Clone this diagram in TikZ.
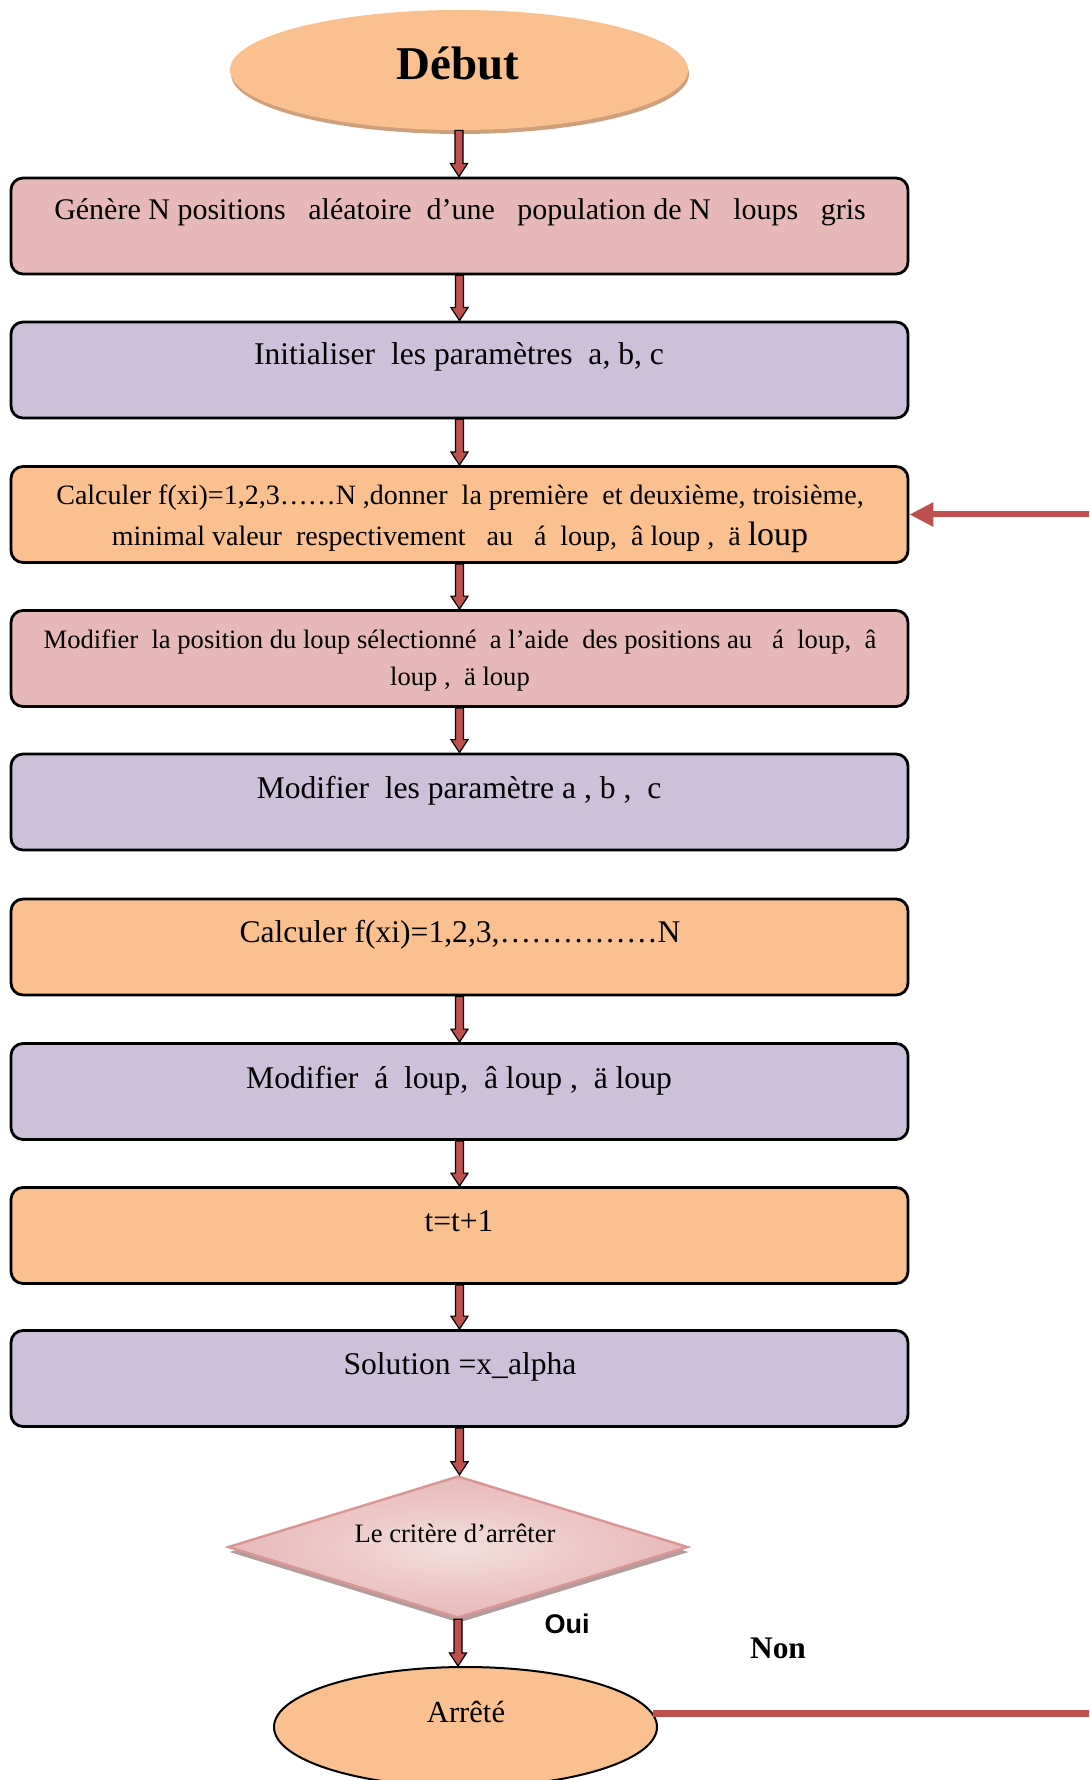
\documentclass[tikz,border=0pt]{standalone}
\usepackage{fontspec}
\setmainfont{Liberation Serif}
\newfontfamily\sansgras{Liberation Sans}
\usepackage{tikz}
\usetikzlibrary{calc,shapes.geometric,shadows,arrows.meta}

\definecolor{rosebox}{HTML}{E6B9B8}
\definecolor{rosepale}{HTML}{F3DEDD}
\definecolor{lilas}{HTML}{CCC0DA}
\definecolor{orangebox}{HTML}{FAC090}
\definecolor{rougefl}{HTML}{C0504D}
\definecolor{bordlos}{HTML}{D99694}
\definecolor{ombrebeige}{HTML}{CFA07C}
\definecolor{ombregris}{HTML}{B49C9C}

\begin{document}
\begin{tikzpicture}[x=0.5pt, y=-0.5pt,
    boite/.style={rectangle, rounded corners=6pt, draw=black, line width=1.4pt,
      minimum width=448.5pt, minimum height=48pt, inner sep=0pt},
    txt/.style={font=\fontsize{15.8}{19}\selectfont, inner sep=0pt, anchor=base},
    petit/.style={font=\fontsize{14}{20.5}\selectfont, inner sep=0pt, align=center},
    fleche/.style={draw=black, line width=0.6pt, fill=rougefl,
      to path={let \p1=(\tikztostart), \p2=(\tikztotarget) in
        (\x1-2pt,\y1) -- (\x1+2pt,\y1) -- (\x1+2pt,\y2+6.5pt) -- (\x1+4.25pt,\y2+6.5pt)
        -- (\x1,\y2) -- (\x1-4.25pt,\y2+6.5pt) -- (\x1-2pt,\y2+6.5pt) -- cycle}},
    retour/.style={draw=rougefl, line width=3pt,
      -{Triangle[length=12pt, width=11.5pt]}}]
    \useasboundingbox (0,0) rectangle (1089,1780);

    % debut
    \node[ellipse, fill=orangebox, minimum width=229pt, minimum height=60pt, inner sep=0pt,
      drop shadow={shadow xshift=0.5pt, shadow yshift=-2pt, fill=ombrebeige, opacity=1}]
      (debut) at (459,70) {};
    \node[txt, font=\fontsize{23.5}{28}\selectfont\bfseries] (tdebut) at (458,80) {Début};

    % boites
    \node[boite, fill=rosebox] (b1) at (459.5,226) {};
    \node[boite, fill=lilas] (b2) at (459.5,370) {};
    \node[boite, fill=orangebox] (b3) at (459.5,514.5) {};
    \node[boite, fill=rosebox] (b4) at (459.5,658.5) {};
    \node[boite, fill=lilas] (b5) at (459.5,802) {};
    \node[boite, fill=orangebox] (b6) at (459.5,947) {};
    \node[boite, fill=lilas] (b7) at (459.5,1091.5) {};
    \node[boite, fill=orangebox] (b8) at (459.5,1235.5) {};
    \node[boite, fill=lilas] (b9) at (459.5,1378.5) {};

    % textes des boites
    \node[txt, font=\fontsize{15}{19}\selectfont] (t1) at (460,220)
      {Génère N positions~~ aléatoire~ d’une~~ population de N~~ loups~~ gris};
    \node[txt] (t2) at (459,365) {Initialiser~ les paramètres~ a, b, c};
    \node[petit] (t3) at (460,519) {Calculer f(xi)=1,2,3……N ,donner~ la première~ et deuxième, troisième,\\
      minimal valeur~ respectivement~~ au~~ á~ loup,~ â loup ,~ ä {\fontsize{17}{20.5}\selectfont loup}};
    \node[petit, font=\fontsize{13.3}{18.5}\selectfont] (t4) at (460,660)
      {Modifier~ la position du loup sélectionné~ a l’aide~ des positions au~~ á~ loup,~ â\\ loup ,~ ä loup};
    \node[txt] (t5) at (459,798) {Modifier~ les paramètre a , b ,~ c};
    \node[txt] (t6) at (460,942) {Calculer f(xi)=1,2,3,……………N};
    \node[txt] (t7) at (459,1088) {Modifier~ á~ loup,~ â loup ,~ ä loup};
    \node[txt] (t8) at (459,1231) {t=t+1};
    \node[txt] (t9) at (460,1374) {Solution =x\_alpha};

    % critere
    \node[diamond, shade, inner color=rosepale, outer color=rosebox, draw=bordlos, line width=1.2pt,
      minimum width=230pt, minimum height=71pt, inner sep=0pt,
      drop shadow={shadow xshift=0.5pt, shadow yshift=-2.5pt, fill=ombregris, opacity=1}]
      (crit) at (458,1547) {};
    \node[txt, font=\fontsize{13.3}{16}\selectfont] (tcrit) at (455,1542) {Le critère d’arrêter};

    % fin
    \node[ellipse, fill=orangebox, draw=black, line width=1pt, minimum width=191.5pt,
      minimum height=60pt, inner sep=0pt] (arrete) at (465.5,1727) {};
    \node[txt, font=\fontsize{15.3}{18}\selectfont] (tarrete) at (466,1722) {Arrêté};

    \node[txt, font=\sansgras\bfseries\fontsize{13.5}{16}\selectfont] (oui) at (567,1633) {Oui};
    \node[txt, font=\bfseries\fontsize{15.7}{18}\selectfont] (non) at (778,1658) {Non};

    % fleches
    \draw[fleche] (debut.south) to (b1.north);
    \draw[fleche] (b1.south) to (b2.north);
    \draw[fleche] (b2.south) to (b3.north);
    \draw[fleche] (b3.south) to (b4.north);
    \draw[fleche] (b4.south) to (b5.north);
    \draw[fleche] (b6.south) to (b7.north);
    \draw[fleche] (b7.south) to (b8.north);
    \draw[fleche] (b8.south) to (b9.north);
    \draw[fleche] (b9.south) to (crit.north);
    \draw[fleche] (crit.south) to (arrete.north);

    % boucle (non)
    \coordinate (entree) at (1089,514.5);
    \coordinate (sortie) at (1089,1715);
    \draw[retour] (entree) -- (b3.east);
    \draw[draw=rougefl, line width=3.5pt] (arrete.4) -- (arrete.4 -| sortie);
\end{tikzpicture}
\end{document}
